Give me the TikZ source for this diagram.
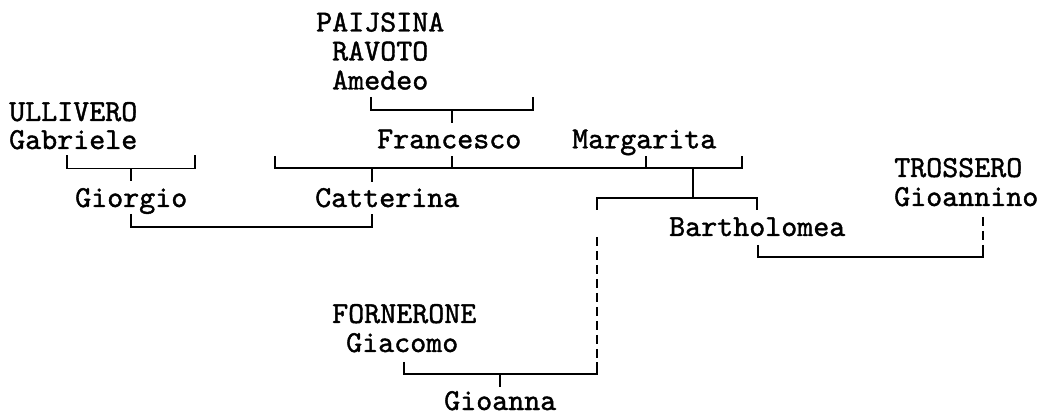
\documentclass[tikz,border=0pt]{standalone}
\usepackage{fontspec}
\newfontfamily\namefont[FakeBold=1.3]{lmmono10-regular.otf}
\newcommand\nmfont{\namefont\fontsize{30.5pt}{32pt}\selectfont}
\begin{document}
\begin{tikzpicture}[x=1pt,y=-1pt,
  person/.style={anchor=base west, inner sep=0pt, font=\nmfont},
  ln/.style={line width=1.6pt},
  dl/.style={line width=1.6pt, dash pattern=on 9pt off 5pt}]
\useasboundingbox (0,0) rectangle (1039,419);
% names
\node[person] (paijsina) at (316,31.5) {PAIJSINA};
\node[person] (ravoto) at (332,60.5) {RAVOTO};
\node[person] (amedeo) at (332,89.5) {Amedeo};
\node[person] (ullivero) at (9,121) {ULLIVERO};
\node[person] (gabriele) at (9,149) {Gabriele};
\node[person] (francesco) at (377,148.3) {Francesco};
\node[person] (margarita) at (572,148.3) {Margarita};
\node[person] (trossero) at (894,177) {TROSSERO};
\node[person] (gioannino) at (894,206) {Gioannino};
\node[person] (giorgio) at (75,207) {Giorgio};
\node[person] (catterina) at (315,207) {Catterina};
\node[person] (bartholomea) at (669,236) {Bartholomea};
\node[person] (fornerone) at (332,323) {FORNERONE};
\node[person] (giacomo) at (346,352) {Giacomo};
\node[person] (gioanna) at (444,410) {Gioanna};
% junctions
\coordinate (aL) at (371,110); \coordinate (aR) at (533,110); \coordinate (aC) at (452,110);
\coordinate (bL) at (67,168.5); \coordinate (bR) at (195,168.5); \coordinate (bC) at (131,168.5);
\coordinate (cL) at (275,168); \coordinate (cR) at (742,168);
\coordinate (cFr) at (452,168); \coordinate (cMa) at (646,168);
\coordinate (cCa) at (372,168); \coordinate (cBa) at (693,168);
\coordinate (dL) at (597,198); \coordinate (dR) at (757,198); \coordinate (dC) at (693,198);
\coordinate (eL) at (131,227); \coordinate (eR) at (372,227);
\coordinate (fL) at (758,257); \coordinate (fR) at (983,257);
\coordinate (fTop) at (983,217); \coordinate (fMid) at (983,245);
\coordinate (gL) at (404,374); \coordinate (gR) at (597,374); \coordinate (gC) at (500,374);
\coordinate (gTop) at (597,237); \coordinate (gMid) at (597,362);
% Amedeo family
\draw[ln] ([yshift=13pt]aL) -- (aL) -- (aR) -- ([yshift=13pt]aR);
\draw[ln] (aC) -- ([yshift=-13pt]aC);
% Gabriele family
\draw[ln] ([yshift=13pt]bL) -- (bL) -- (bR) -- ([yshift=13pt]bR);
\draw[ln] (bC) -- ([yshift=-13pt]bC);
% long line
\draw[ln] ([yshift=12pt]cL) -- (cL) -- (cR) -- ([yshift=12pt]cR);
\draw[ln] (cFr) -- ([yshift=12pt]cFr);
\draw[ln] (cMa) -- ([yshift=12pt]cMa);
\draw[ln] (cCa) -- ([yshift=-14pt]cCa);
\draw[ln] (cBa) -- (dC);
% Margarita children line
\draw[ln] ([yshift=-12pt]dL) -- (dL) -- (dR) -- ([yshift=-12pt]dR);
% Giorgio - Catterina
\draw[ln] ([yshift=13pt]eL) -- (eL) -- (eR) -- ([yshift=13pt]eR);
% Bartholomea - Gioannino
\draw[ln] ([yshift=12pt]fL) -- (fL) -- (fR) -- (fMid);
\draw[dl] (fTop) -- (fMid);
% Giacomo line
\draw[ln] ([yshift=12pt]gL) -- (gL) -- (gR) -- (gMid);
\draw[dl] (gTop) -- (gMid);
\draw[ln] (gC) -- ([yshift=-13pt]gC);
\end{tikzpicture}
\end{document}
